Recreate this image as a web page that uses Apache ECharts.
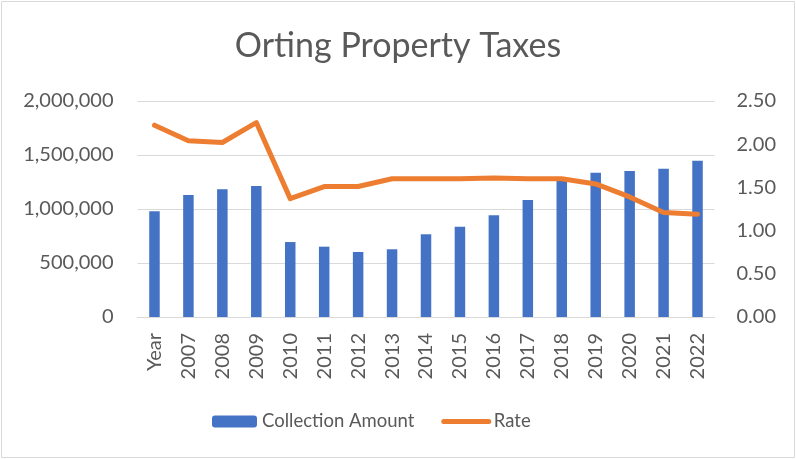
<!DOCTYPE html>
<html>
<head>
<meta charset="utf-8">
<script src="https://cdn.jsdelivr.net/npm/echarts@6/dist/echarts.min.js"></script>
<style>
  html, body { margin: 0; padding: 0; background: #fff; }
  #chart { width: 796px; height: 459px; }
</style>
</head>
<body>
<div id="chart"></div>
<script>
  const categories = ['Year', '2007', '2008', '2009', '2010', '2011', '2012', '2013', '2014',
    '2015', '2016', '2017', '2018', '2019', '2020', '2021', '2022'];
  const collectionAmount = [980000, 1130000, 1182000, 1213000, 694000, 651000, 602000, 627000, 766000,
    836000, 941000, 1083000, 1287000, 1336000, 1352000, 1373000, 1447000];
  const rate = [2.22, 2.04, 2.02, 2.25, 1.37, 1.51, 1.51, 1.60, 1.60,
    1.60, 1.61, 1.60, 1.60, 1.54, 1.39, 1.21, 1.19];

  const font = 'Lato, "Open Sans", sans-serif';
  const textColor = '#595959';
  const gridColor = '#D9D9D9';

  const chart = echarts.init(document.getElementById('chart'), null, { renderer: 'canvas' });
  chart.setOption({
    animation: false,
    textStyle: { fontFamily: font, color: textColor },
    graphic: [{
      type: 'rect',
      shape: { x: 1.5, y: 1.5, width: 793, height: 456 },
      style: { fill: 'none', stroke: gridColor, lineWidth: 1 },
      silent: true
    }],
    title: {
      text: 'Orting Property Taxes',
      left: 'center',
      top: 24,
      textStyle: { fontFamily: font, fontSize: 34, fontWeight: 'normal', color: textColor }
    },
    grid: { left: 137.5, right: 81.5, top: 101, bottom: 142, containLabel: false },
    legend: {
      top: 407,
      left: 207,
      itemWidth: 45,
      itemHeight: 12,
      itemGap: 27,
      textStyle: { fontFamily: font, fontSize: 18.5, color: textColor },
      data: [
        { name: 'Collection Amount' },
        { name: 'Rate', itemStyle: { opacity: 0 }, lineStyle: { width: 5, cap: 'round', color: '#ED7D31' } }
      ]
    },
    xAxis: {
      type: 'category',
      data: categories,
      axisLine: { lineStyle: { color: gridColor, width: 1 } },
      axisTick: { show: false },
      axisLabel: { rotate: 90, margin: 16, fontSize: 20, color: textColor, fontFamily: font }
    },
    yAxis: [{
      type: 'value',
      min: 0, max: 2000000, interval: 500000,
      axisLine: { show: false },
      axisTick: { show: false },
      splitLine: { lineStyle: { color: gridColor, width: 1 } },
      axisLabel: {
        fontSize: 20, color: textColor, fontFamily: font, margin: 24,
        formatter: v => v.toLocaleString('en-US')
      }
    }, {
      type: 'value',
      min: 0, max: 2.5, interval: 0.5,
      axisLine: { show: false },
      axisTick: { show: false },
      splitLine: { show: false },
      axisLabel: {
        fontSize: 20, color: textColor, fontFamily: font, margin: 22,
        formatter: v => v.toFixed(2)
      }
    }],
    series: [{
      name: 'Collection Amount',
      type: 'bar',
      data: collectionAmount,
      barWidth: 10.5,
      itemStyle: { color: '#4472C4' }
    }, {
      name: 'Rate',
      type: 'line',
      yAxisIndex: 1,
      data: rate,
      symbol: 'none',
      lineStyle: { color: '#ED7D31', width: 5, cap: 'round', join: 'round' },
      itemStyle: { color: '#ED7D31' }
    }]
  });
</script>
</body>
</html>
